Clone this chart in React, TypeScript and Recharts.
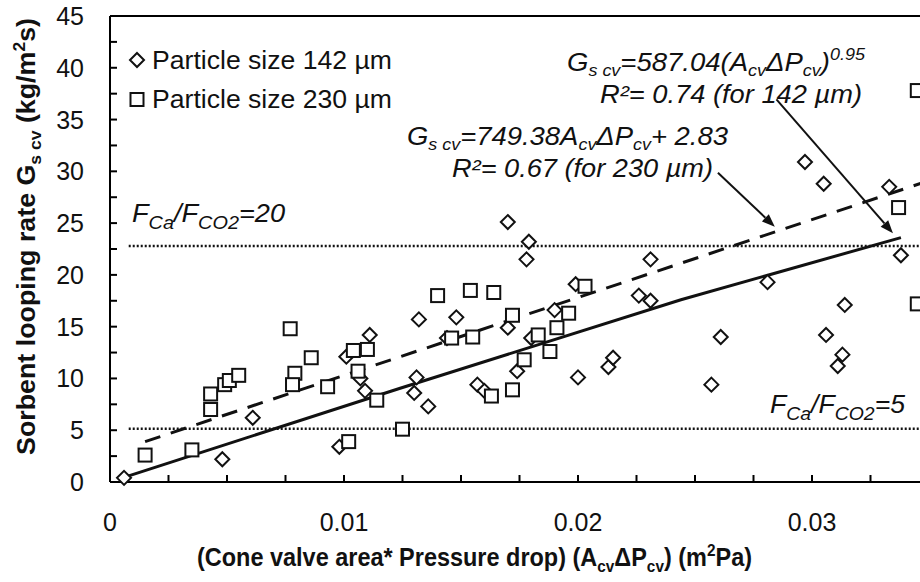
import React from "react";
import {
  ComposedChart,
  Scatter,
  XAxis,
  YAxis,
  ReferenceLine,
} from "recharts";

const FONT = "'Liberation Sans', Arial, sans-serif";

// particle size 142 um (diamonds)
const x142 = [
  0.0006, 0.0048, 0.0061, 0.0098, 0.0101, 0.0107, 0.0109, 0.0111, 0.0132, 0.0131,
  0.013, 0.0136, 0.0144, 0.0148, 0.0157, 0.016, 0.017, 0.017, 0.0174, 0.0178,
  0.0179, 0.018, 0.019, 0.0199, 0.02, 0.0213, 0.0215, 0.0226, 0.0231, 0.0231,
  0.0257, 0.0261, 0.0281, 0.0297, 0.0305, 0.0306, 0.0311, 0.0313, 0.0314, 0.0333,
  0.0338,
];
const y142 = [
  0.4, 2.2, 6.2, 3.4, 12.1, 10.0, 8.8, 14.2, 15.7, 10.1,
  8.6, 7.3, 13.9, 15.9, 9.4, 8.8, 14.9, 25.1, 10.7, 21.5,
  23.2, 13.9, 16.6, 19.1, 10.1, 11.1, 12.0, 18.0, 17.5, 21.5,
  9.4, 14.0, 19.3, 30.9, 28.8, 14.2, 11.2, 12.3, 17.1, 28.5,
  21.9,
];

// particle size 230 um (squares)
const x230 = [
  0.0015, 0.0035, 0.0043, 0.0043, 0.0049, 0.0051, 0.0055, 0.0077, 0.0079, 0.0078,
  0.0086, 0.0093, 0.0102, 0.0104, 0.011, 0.0106, 0.0114, 0.0125, 0.014, 0.0146,
  0.0154, 0.0155, 0.0163, 0.0164, 0.0172, 0.0172, 0.0177, 0.0183, 0.0188, 0.0191,
  0.0196, 0.0203, 0.0337, 0.0345, 0.0345,
];
const y230 = [
  2.6, 3.1, 7.0, 8.5, 9.4, 9.8, 10.3, 14.8, 10.5, 9.4,
  12.0, 9.2, 3.9, 12.7, 12.8, 10.7, 7.9, 5.1, 18.0, 13.9,
  18.5, 14.0, 8.3, 18.3, 8.9, 16.1, 11.8, 14.2, 12.6, 14.9,
  16.3, 18.9, 26.5, 37.8, 17.2,
];

// fit curves
const fit142X = [0.0006, 0.0124, 0.0244, 0.0338];
const fit142Y = [0.45, 9.05, 17.6, 23.6];
const fit230X = [0.0015, 0.035];
const fit230Y = [3.9, 29.1];

const xTicks = [
  0, 0.0025, 0.005, 0.0075, 0.01, 0.0125, 0.015, 0.0175, 0.02, 0.0225, 0.025,
  0.0275, 0.03, 0.0325, 0.035,
];
const yTicks = [
  0, 2.5, 5, 7.5, 10, 12.5, 15, 17.5, 20, 22.5, 25, 27.5, 30, 32.5, 35, 37.5, 40,
  42.5, 45,
];

const ratio20 = 22.8;
const ratio5 = 5.15;

const zip = (xs: number[], ys: number[]) => xs.map((x, i) => ({ x, y: ys[i] }));

function Diamond({ cx, cy }: { cx?: number; cy?: number }) {
  if (cx == null || cy == null) return <g />;
  const r = 7;
  return (
    <polygon
      points={`${cx},${cy - r} ${cx + r},${cy} ${cx},${cy + r} ${cx - r},${cy}`}
      fill="#fff"
      stroke="#111"
      strokeWidth={2}
    />
  );
}

function Square({ cx, cy }: { cx?: number; cy?: number }) {
  if (cx == null || cy == null) return <g />;
  const s = 13;
  return (
    <rect
      x={cx - s / 2}
      y={cy - s / 2}
      width={s}
      height={s}
      fill="#fff"
      stroke="#111"
      strokeWidth={2}
    />
  );
}

function XTick({ x, y, payload }: any) {
  const v = payload.value as number;
  const major = Math.abs(v * 100 - Math.round(v * 100)) < 1e-6;
  return (
    <g>
      <line x1={x} x2={x} y1={y} y2={y - 7} stroke="#000" strokeWidth={2} />
      {major && (
        <text x={x} y={y + 49} textAnchor="middle" fontSize={25} fontFamily={FONT} fill="#111">
          {v === 0 ? "0" : v.toFixed(2)}
        </text>
      )}
    </g>
  );
}

function YTick({ x, y, payload }: any) {
  const v = payload.value as number;
  const major = v % 5 === 0;
  return (
    <g>
      <line x1={x} x2={x + 7} y1={y} y2={y} stroke="#000" strokeWidth={2} />
      {major && (
        <text x={x - 26} y={y + 9} textAnchor="end" fontSize={25} fontFamily={FONT} fill="#111">
          {v}
        </text>
      )}
    </g>
  );
}

function Arrow(props: any) {
  const { x1, y1, x2, y2 } = props;
  const a = Math.atan2(y2 - y1, x2 - x1);
  const len = 13;
  const w = 5;
  const bx = x2 - len * Math.cos(a);
  const by = y2 - len * Math.sin(a);
  const px = -Math.sin(a) * w;
  const py = Math.cos(a) * w;
  return (
    <g>
      <line x1={x1} y1={y1} x2={bx} y2={by} stroke="#111" strokeWidth={2} />
      <polygon points={`${x2},${y2} ${bx + px},${by + py} ${bx - px},${by - py}`} fill="#111" />
    </g>
  );
}

const noDot = () => <g />;

export default function App() {
  return (
    <div
      style={{
        position: "absolute",
        left: 0,
        top: 0,
        width: 920,
        height: 582,
        overflow: "hidden",
        background: "#fff",
      }}
    >
      <ComposedChart width={940} height={582} margin={{ top: 16, right: 11, bottom: 60, left: 0 }}>
        <XAxis
          dataKey="x"
          type="number"
          domain={[0, 0.035]}
          ticks={xTicks}
          height={40}
          tickSize={0}
          tickMargin={0}
          tickLine={false}
          tick={<XTick />}
          axisLine={{ stroke: "#000", strokeWidth: 2 }}
          interval={0}
        />
        <YAxis
          dataKey="y"
          type="number"
          domain={[0, 45]}
          ticks={yTicks}
          width={110}
          tickSize={0}
          tickMargin={0}
          tickLine={false}
          tick={<YTick />}
          axisLine={{ stroke: "#000", strokeWidth: 2 }}
          interval={0}
        />
        <ReferenceLine y={45} stroke="#000" strokeWidth={2} />
        <ReferenceLine
          segment={[{ x: 0.0008, y: ratio20 }, { x: 0.035, y: ratio20 }]}
          stroke="#111"
          strokeWidth={2.5}
          strokeDasharray="2 2"
        />
        <ReferenceLine
          segment={[{ x: 0.0008, y: ratio5 }, { x: 0.035, y: ratio5 }]}
          stroke="#111"
          strokeWidth={2.5}
          strokeDasharray="2 2"
        />
        <Scatter
          data={zip(fit230X, fit230Y)}
          dataKey="y"
          line={{ stroke: "#111", strokeWidth: 3, strokeDasharray: "16 11" }}
          lineType="joint"
          shape={noDot}
          isAnimationActive={false}
        />
        <Scatter
          data={zip(fit142X, fit142Y)}
          dataKey="y"
          line={{ stroke: "#111", strokeWidth: 3 }}
          lineType="joint"
          shape={noDot}
          isAnimationActive={false}
        />
        <Scatter data={zip(x142, y142)} dataKey="y" shape={<Diamond />} isAnimationActive={false} />
        <Scatter data={zip(x230, y230)} dataKey="y" shape={<Square />} isAnimationActive={false} />
        <ReferenceLine
          segment={[{ x: 0.02848, y: 36.95 }, { x: 0.03346, y: 24.02 }]}
          shape={<Arrow />}
        />
        <ReferenceLine
          segment={[{ x: 0.02598, y: 29.87 }, { x: 0.02841, y: 24.65 }]}
          shape={<Arrow />}
        />
      </ComposedChart>
      <svg
        width={920}
        height={582}
        style={{ position: "absolute", left: 0, top: 0, pointerEvents: "none" }}
        fontFamily={FONT}
        fill="#111"
      >
        {/* legend */}
        <Diamond cx={137} cy={60} />
        <Square cx={137} cy={99.5} />
        <text x={152} y={69} fontSize={26} textLength={240} lengthAdjust="spacingAndGlyphs">
          Particle size 142 µm
        </text>
        <text x={152} y={108} fontSize={26} textLength={240} lengthAdjust="spacingAndGlyphs">
          Particle size 230 µm
        </text>

        {/* fit equations */}
        <g fontStyle="italic" fontSize={26}>
          <text x={567} y={71} textLength={298} lengthAdjust="spacingAndGlyphs">
            G<tspan dy={5} fontSize={17}>s cv</tspan>
            <tspan dy={-5}>=587.04(A</tspan>
            <tspan dy={5} fontSize={17}>cv</tspan>
            <tspan dy={-5}>ΔP</tspan>
            <tspan dy={5} fontSize={17}>cv</tspan>
            <tspan dy={-5}>)</tspan>
            <tspan dy={-11} fontSize={17}>0.95</tspan>
          </text>
          <text x={600} y={103} textLength={262} lengthAdjust="spacingAndGlyphs">
            R²= 0.74 (for 142 µm)
          </text>
          <text x={407} y={145} textLength={321} lengthAdjust="spacingAndGlyphs">
            G<tspan dy={5} fontSize={17}>s cv</tspan>
            <tspan dy={-5}>=749.38A</tspan>
            <tspan dy={5} fontSize={17}>cv</tspan>
            <tspan dy={-5}>ΔP</tspan>
            <tspan dy={5} fontSize={17}>cv</tspan>
            <tspan dy={-5}>+ 2.83</tspan>
          </text>
          <text x={452} y={177} textLength={261} lengthAdjust="spacingAndGlyphs">
            R²= 0.67 (for 230 µm)
          </text>

          <text x={132} y={222} textLength={153} lengthAdjust="spacingAndGlyphs">
            F<tspan dy={7} fontSize={19}>Ca</tspan>
            <tspan dy={-7}>/F</tspan>
            <tspan dy={7} fontSize={19}>CO2</tspan>
            <tspan dy={-7}>=20</tspan>
          </text>
          <text x={770} y={413} textLength={135} lengthAdjust="spacingAndGlyphs">
            F<tspan dy={7} fontSize={19}>Ca</tspan>
            <tspan dy={-7}>/F</tspan>
            <tspan dy={7} fontSize={19}>CO2</tspan>
            <tspan dy={-7}>=5</tspan>
          </text>
        </g>

        {/* axis titles */}
        <text
          x={197}
          y={566}
          fontSize={26}
          fontWeight="bold"
          textLength={555}
          lengthAdjust="spacingAndGlyphs"
        >
          (Cone valve area* Pressure drop) (A
          <tspan dy={6} fontSize={17}>cv</tspan>
          <tspan dy={-6}>ΔP</tspan>
          <tspan dy={6} fontSize={17}>cv</tspan>
          <tspan dy={-6}>) (m</tspan>
          <tspan dy={-10} fontSize={17}>2</tspan>
          <tspan dy={10}>Pa)</tspan>
        </text>
        <text
          transform="translate(35,455) rotate(-90)"
          fontSize={26}
          fontWeight="bold"
          textLength={437}
          lengthAdjust="spacingAndGlyphs"
        >
          Sorbent looping rate G
          <tspan dy={6} fontSize={17}>s cv</tspan>
          <tspan dy={-6}> (kg/m</tspan>
          <tspan dy={-10} fontSize={17}>2</tspan>
          <tspan dy={10}>s)</tspan>
        </text>
      </svg>
    </div>
  );
}
